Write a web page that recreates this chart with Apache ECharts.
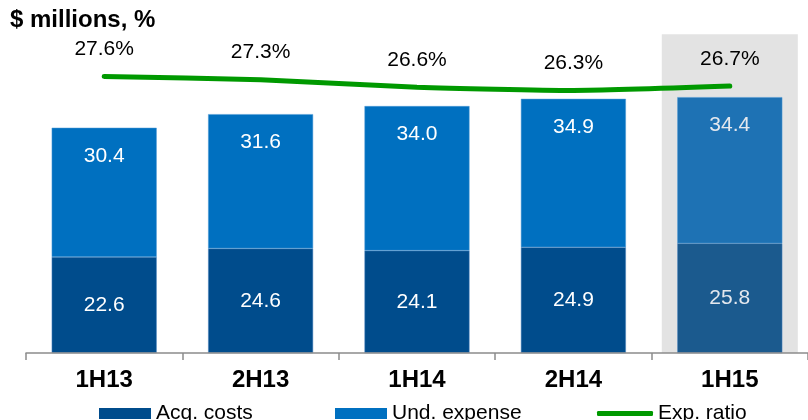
<!DOCTYPE html>
<html>
<head>
<meta charset="utf-8">
<script src="https://cdn.jsdelivr.net/npm/echarts@6/dist/echarts.min.js"></script>
<style>
  html, body { margin: 0; padding: 0; background: #fff; }
  #chart { width: 808px; height: 420px; }
</style>
</head>
<body>
<div id="chart"></div>
<script>
const categories = ["1H13", "2H13", "1H14", "2H14", "1H15"];
const acqCosts = [22.6, 24.6, 24.1, 24.9, 25.8];
const undExpense = [30.4, 31.6, 34.0, 34.9, 34.4];
const expRatio = [27.6, 27.3, 26.6, 26.3, 26.7];
// gray band behind the latest half-year
const highlight = [null, null, null, null, 75];

const FONT = "Liberation Sans";
const acqColor = "#004c8c";
const undColor = "#0070c0";

const myChart = echarts.init(document.getElementById("chart"));

const legendText = { fontFamily: FONT, fontSize: 21, color: "#000" };

const option = {
  animation: false,
  textStyle: { fontFamily: FONT },
  title: {
    text: "$ millions, %",
    left: 5,
    top: 3,
    textStyle: { fontFamily: FONT, fontSize: 24, fontWeight: "bold", color: "#000" },
  },
  grid: { left: 26, top: 34.25, width: 785, height: 318.75 },
  legend: [
    {
      data: [{ name: "Acq. costs", icon: "rect" }], left: 94, top: 398,
      itemWidth: 52, itemHeight: 11,
      itemStyle: { borderWidth: 0 },
      textStyle: legendText,
    },
    {
      data: [{ name: "Und. expense", icon: "rect" }], left: 330, top: 398,
      itemWidth: 52, itemHeight: 11,
      itemStyle: { borderWidth: 0 },
      textStyle: legendText,
    },
    {
      data: [{ name: "Exp. ratio", icon: "roundRect" }], left: 592, top: 398,
      itemWidth: 56, itemHeight: 5,
      itemStyle: { borderWidth: 0, color: "#009900" },
      lineStyle: { width: 0 },
      textStyle: legendText,
    },
  ],
  xAxis: [
    {
      type: "category",
      data: categories,
      axisLine: { show: true, lineStyle: { color: "#8c8c8c", width: 1.5 } },
      axisTick: { show: true, length: 7, lineStyle: { color: "#8c8c8c", width: 1.5 } },
      axisLabel: { margin: 15, fontFamily: FONT, fontSize: 24, fontWeight: "bold", color: "#000" },
      z: 10,
    },
    { type: "category", data: categories, show: false },
  ],
  yAxis: [
    { type: "value", min: 0, max: 75, show: false },
    { type: "value", min: 2, max: 31.5, show: false },
  ],
  series: [
    {
      name: "highlight",
      type: "bar",
      xAxisIndex: 1,
      barWidth: 136,
      data: highlight,
      itemStyle: { color: "#e3e3e3" },
      silent: true,
      z: 0,
    },
    {
      name: "Acq. costs",
      type: "bar",
      stack: "cost",
      barWidth: 105,
      data: acqCosts.map((v, i) => i === 4
        ? { value: v, itemStyle: { color: "#1b5a8e" }, label: { color: "#e4e8ee" } }
        : v),
      itemStyle: { color: acqColor, borderColor: "#4f86c0", borderWidth: 0.5 },
      label: {
        show: true, position: "inside", color: "#fff", fontFamily: FONT, fontSize: 21,
        formatter: (p) => p.value.toFixed(1),
      },
      z: 2,
    },
    {
      name: "Und. expense",
      type: "bar",
      stack: "cost",
      barWidth: 105,
      data: undExpense.map((v, i) => i === 4
        ? { value: v, itemStyle: { color: "#1e72b4" }, label: { color: "#e4e8ee" } }
        : v),
      itemStyle: { color: undColor, borderColor: "#4f9ad6", borderWidth: 0.5 },
      label: {
        show: true, position: "insideTop", distance: 18, color: "#fff", fontFamily: FONT, fontSize: 21,
        formatter: (p) => p.value.toFixed(1),
      },
      z: 2,
    },
    {
      name: "Exp. ratio",
      type: "line",
      yAxisIndex: 1,
      data: expRatio,
      symbol: "circle",
      symbolSize: 1,
      showSymbol: true,
      smooth: 0.2,
      lineStyle: { color: "#009900", width: 5, cap: "round" },
      itemStyle: { color: "#009900" },
      label: {
        show: true,
        position: "top",
        distance: 16,
        formatter: (p) => p.value.toFixed(1) + "%",
        color: "#000",
        fontFamily: FONT,
        fontSize: 21,
      },
      z: 5,
    },
  ],
};

myChart.setOption(option);
window.addEventListener("resize", () => {
  myChart.resize();
});
</script>
</body>
</html>
